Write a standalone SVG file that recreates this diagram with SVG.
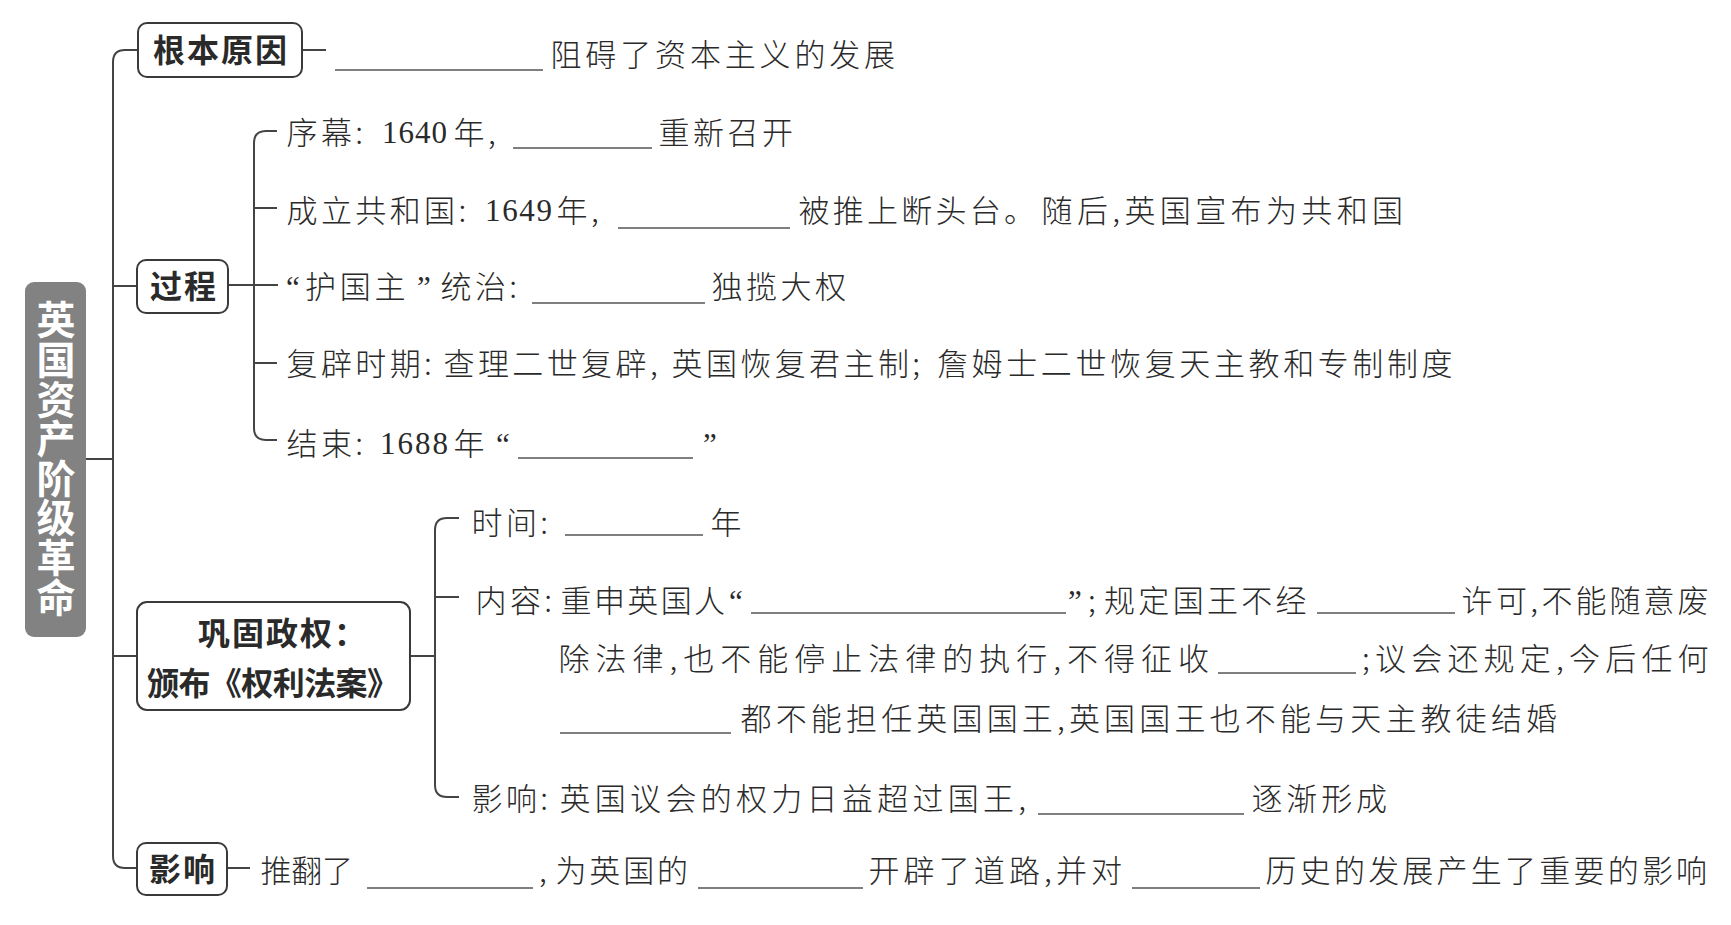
<svg xmlns="http://www.w3.org/2000/svg" width="1731" height="925" viewBox="0 0 1731 925">
<style>
.bg{fill:#ffffff}
.box{fill:#ffffff;stroke:#3a3a3a;stroke-width:2}
.title{fill:#828282}
.tt{font-family:"Noto Sans CJK SC",sans-serif;font-size:39px;font-weight:700;fill:#ffffff;writing-mode:vertical-rl;letter-spacing:0.6px}
.lb{font-family:"Noto Sans CJK SC",sans-serif;font-size:32px;font-weight:600;fill:#2a2a2a;letter-spacing:2px}
.lbm{text-anchor:middle}
.t{font-family:"Noto Sans CJK SC",sans-serif;font-size:31px;font-weight:300;fill:#2a2a2a;letter-spacing:3.4px}
.n{font-family:"Liberation Serif",serif;font-size:31px;fill:#2a2a2a}
.c{fill:none;stroke:#444444;stroke-width:2}
.bl{fill:none;stroke:#555555;stroke-width:1.5}
</style>
<rect class="bg" x="0" y="0" width="1731" height="925"/>

<g id="connectors">
  <path class="c" d="M86 459 H113"/>
  <path class="c" d="M138 50 H125 Q113 50 113 62 V856 Q113 868 125 868 H137"/>
  <path class="c" d="M113 286 H137"/>
  <path class="c" d="M113 656 H137"/>
  <path class="c" d="M302 50 H326"/>
  <path class="c" d="M277 131 H266 Q254 131 254 143 V428 Q254 440 266 440 H277"/>
  <path class="c" d="M254 208 H277"/>
  <path class="c" d="M228 285 H278"/>
  <path class="c" d="M254 363 H277"/>
  <path class="c" d="M459 518 H447 Q435 518 435 530 V785 Q435 797 447 797 H459"/>
  <path class="c" d="M435 597 H459"/>
  <path class="c" d="M410 656 H435"/>
  <path class="c" d="M227 868 H250"/>
</g>

<g id="title">
  <rect class="title" x="25" y="282" width="61" height="355" rx="9"/>
  <text class="tt" x="56" y="300">英国资产阶级革命</text>
</g>

<g id="node-genben">
  <rect class="box" x="138" y="23" width="164" height="54" rx="9"/>
  <text class="lb lbm" x="221" y="62">根本原因</text>
</g>
<g id="text-genben">
  <line class="bl" x1="335" y1="70" x2="543" y2="70"/>
  <text class="t" x="550.5" y="66" textLength="348" lengthAdjust="spacing">阻碍了资本主义的发展</text>
</g>

<g id="node-guocheng">
  <rect class="box" x="137" y="260" width="91" height="53" rx="9"/>
  <text class="lb lbm" x="184" y="298">过程</text>
</g>
<g id="text-xumu">
  <text class="t" x="286.5" y="144">序幕:</text>
  <text class="n" x="382" y="143" textLength="65" lengthAdjust="spacing">1640</text>
  <text class="t" x="453.5" y="144">年,</text>
  <line class="bl" x1="513" y1="148" x2="652" y2="148"/>
  <text class="t" x="658.5" y="144" textLength="138" lengthAdjust="spacing">重新召开</text>
</g>
<g id="text-chengli">
  <text class="t" x="286.5" y="222">成立共和国:</text>
  <text class="n" x="485" y="221" textLength="67" lengthAdjust="spacing">1649</text>
  <text class="t" x="556.5" y="222">年,</text>
  <line class="bl" x1="618" y1="228" x2="790" y2="228"/>
  <text class="t" x="798.5" y="222" textLength="240" lengthAdjust="spacing">被推上断头台。</text>
  <text class="t" x="1041.5" y="222" textLength="365" lengthAdjust="spacing">随后,英国宣布为共和国</text>
</g>
<g id="text-huguozhu">
  <text class="n" x="286" y="298">“</text>
  <text class="t" x="305" y="298" textLength="104" lengthAdjust="spacing">护国主</text>
  <text class="n" x="417" y="298">”</text>
  <text class="t" x="440.5" y="298">统治:</text>
  <line class="bl" x1="532" y1="303" x2="705" y2="303"/>
  <text class="t" x="711.5" y="298" textLength="138" lengthAdjust="spacing">独揽大权</text>
</g>
<g id="text-fubi">
  <text class="t" x="286.5" y="375">复辟时期:</text>
  <text class="t" x="443.5" y="375">查理二世复辟,</text>
  <text class="t" x="671.5" y="375">英国恢复君主制;</text>
  <text class="t" x="937" y="375" textLength="519" lengthAdjust="spacing">詹姆士二世恢复天主教和专制制度</text>
</g>
<g id="text-jieshu">
  <text class="t" x="286.5" y="455">结束:</text>
  <text class="n" x="380" y="454" textLength="68" lengthAdjust="spacing">1688</text>
  <text class="t" x="453.5" y="455">年</text>
  <text class="n" x="496" y="455">“</text>
  <line class="bl" x1="518" y1="458" x2="693" y2="458"/>
  <text class="n" x="703" y="455">”</text>
</g>

<g id="node-gonggu">
  <rect class="box" x="137" y="602" width="273" height="108" rx="10"/>
  <text class="lb" x="198" y="645">巩固政权：</text>
  <text class="lb" x="147" y="695" textLength="254" lengthAdjust="spacing">颁布《权利法案》</text>
</g>
<g id="text-shijian">
  <text class="t" x="471.5" y="534">时间:</text>
  <line class="bl" x1="565" y1="535" x2="703" y2="535"/>
  <text class="t" x="710.5" y="534">年</text>
</g>
<g id="text-neirong">
  <text class="t" x="475.5" y="612">内容:</text>
  <text class="t" x="560.5" y="612" textLength="168" lengthAdjust="spacing">重申英国人</text>
  <text class="n" x="729" y="612">“</text>
  <line class="bl" x1="751" y1="613" x2="1066" y2="613"/>
  <text class="n" x="1068" y="612">”</text>
  <text class="t" x="1088" y="612">;</text>
  <text class="t" x="1104" y="612" textLength="206" lengthAdjust="spacing">规定国王不经</text>
  <line class="bl" x1="1317" y1="613" x2="1455" y2="613"/>
  <text class="t" x="1461.5" y="612">许可,</text>
  <text class="t" x="1541.5" y="612" textLength="170.5" lengthAdjust="spacing">不能随意废</text>
  <text class="t" x="558.5" y="670" textLength="654" lengthAdjust="spacing">除法律,也不能停止法律的执行,不得征收</text>
  <line class="bl" x1="1218" y1="673" x2="1356" y2="673"/>
  <text class="t" x="1362" y="670" textLength="350" lengthAdjust="spacing">;议会还规定,今后任何</text>
  <line class="bl" x1="560" y1="733" x2="731" y2="733"/>
  <text class="t" x="740.5" y="730" textLength="820" lengthAdjust="spacing">都不能担任英国国王,英国国王也不能与天主教徒结婚</text>
</g>
<g id="text-yingxiang-sub">
  <text class="t" x="471.5" y="810">影响:</text>
  <text class="t" x="559.5" y="810" textLength="470" lengthAdjust="spacing">英国议会的权力日益超过国王,</text>
  <line class="bl" x1="1038" y1="814" x2="1244" y2="814"/>
  <text class="t" x="1251.5" y="810" textLength="139" lengthAdjust="spacing">逐渐形成</text>
</g>

<g id="node-yingxiang">
  <rect class="box" x="137" y="843" width="90" height="52" rx="9"/>
  <text class="lb lbm" x="183" y="881">影响</text>
</g>
<g id="text-yingxiang">
  <text class="t" x="260.5" y="882" textLength="96" lengthAdjust="spacing">推翻了</text>
  <line class="bl" x1="367" y1="888" x2="533" y2="888"/>
  <text class="t" x="539" y="882">,</text>
  <text class="t" x="555.5" y="882" textLength="136" lengthAdjust="spacing">为英国的</text>
  <line class="bl" x1="698" y1="888" x2="863" y2="888"/>
  <text class="t" x="868.5" y="882" textLength="257" lengthAdjust="spacing">开辟了道路,并对</text>
  <line class="bl" x1="1132" y1="888" x2="1260" y2="888"/>
  <text class="t" x="1265.5" y="882" textLength="445" lengthAdjust="spacing">历史的发展产生了重要的影响</text>
</g>
</svg>
